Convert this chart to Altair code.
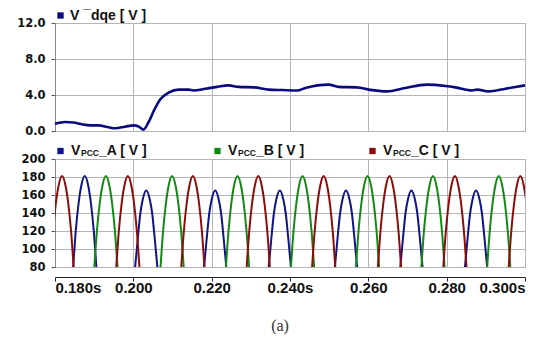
import altair as alt
import pandas as pd

# ---- top panel: V-dqe [V] ----
T_VDQE = [0.1800, 0.1826, 0.1847, 0.1869, 0.1890, 0.1911, 0.1937, 0.1954, 0.1979,
          0.2001, 0.2014, 0.2026, 0.2039, 0.2055, 0.2069, 0.2090, 0.2116, 0.2141,
          0.2154, 0.2184, 0.2214, 0.2243, 0.2269, 0.2308, 0.2346, 0.2380,
          0.2418, 0.2439, 0.2499, 0.2524, 0.2571, 0.2601, 0.2648, 0.2694, 0.2750,
          0.2797, 0.2822, 0.2865, 0.2878, 0.2907, 0.2950, 0.3000]
V_VDQE = [0.81, 1.00, 0.95, 0.74, 0.63, 0.63, 0.41, 0.30, 0.48,
          0.63, 0.48, 0.15, 1.00, 2.48, 3.52, 4.26, 4.60, 4.60,
          4.50, 4.70, 4.90, 5.07, 4.90, 4.85, 4.60, 4.55,
          4.50, 4.78, 5.15, 4.90, 4.85, 4.60, 4.40, 4.78, 5.15,
          5.00, 4.85, 4.50, 4.60, 4.40, 4.70, 5.07]

# ---- bottom panel: V_PCC arches (peak time, peak value) ----
PEAK_T_A = [0.1876, 0.2033, 0.2209, 0.2374, 0.2543, 0.2710, 0.2875]
PEAK_V_A = [181, 165, 165, 165, 165, 165, 165]
PEAK_T_B = [0.1930, 0.2099, 0.2266, 0.2432, 0.2598, 0.2765, 0.2933]
PEAK_V_B = [181, 181, 181, 181, 181, 181, 181]
PEAK_T_C = [0.1818, 0.1986, 0.2152, 0.2319, 0.2486, 0.2654, 0.2821, 0.2988]
PEAK_V_C = [181, 181, 181, 181, 181, 181, 181, 181]

# arch outline (time offset from peak, value)
SHAPE_HI_DT = [-0.0030, -0.0023, -0.0016, -0.0009, 0.0, 0.0009, 0.0016, 0.0023, 0.0030]
SHAPE_HI_V = [77, 120, 150, 170, None, 170, 150, 120, 77]
SHAPE_LO_DT = [-0.0029, -0.0022, -0.0015, -0.0009, 0.0, 0.0009, 0.0015, 0.0022, 0.0029]
SHAPE_LO_V = [77, 110, 140, 155, None, 155, 140, 110, 77]

COLORS = {"A": "#101488", "B": "#128a12", "C": "#8c0c0c"}
LINE_TOP = "#0a0a80"
GRID = "#b4b4b4"
FONT_AX = "DejaVu Sans"
FONT_LG = "Liberation Sans"

rows = []
for ph, ts, vs in (("A", PEAK_T_A, PEAK_V_A), ("B", PEAK_T_B, PEAK_V_B), ("C", PEAK_T_C, PEAK_V_C)):
    for i, (tp, vp) in enumerate(zip(ts, vs)):
        dts, vals = (SHAPE_HI_DT, SHAPE_HI_V) if vp > 172 else (SHAPE_LO_DT, SHAPE_LO_V)
        for k, (dt, v) in enumerate(zip(dts, vals)):
            rows.append({"t": tp + dt, "v": vp if v is None else v,
                         "phase": ph, "arch": f"{ph}{i}", "k": k})
wave = pd.DataFrame(rows)
top = pd.DataFrame({"t": T_VDQE, "v": V_VDQE})

W, H = 470, 108
xscale = alt.Scale(domain=[0.18, 0.30], nice=False, zero=False)
xvals = [0.18, 0.20, 0.22, 0.24, 0.26, 0.28, 0.30]

y_axis_common = dict(grid=True, gridColor=GRID, gridWidth=1, domainColor="#888888",
                     tickColor="#555555", tickSize=4, labelPadding=6,
                     labelFont=FONT_AX, labelFontWeight="bold", labelFontSize=11.5,
                     labelColor="#111111", title=None)

x_top = alt.X("t:Q", scale=xscale,
              axis=alt.Axis(values=xvals, labels=False, ticks=False, domain=False,
                            grid=True, gridColor=GRID, title=None))

line_top = alt.Chart(top).mark_line(color=LINE_TOP, strokeWidth=2.6, interpolate="monotone").encode(
    x=x_top,
    y=alt.Y("v:Q", scale=alt.Scale(domain=[0, 12], nice=False),
            axis=alt.Axis(values=[0, 4, 8, 12], format=".1f", **y_axis_common)),
)
one_top = top.head(1)
sq_top = alt.Chart(one_top).mark_square(color=LINE_TOP, size=40, opacity=1).encode(
    x=alt.value(5.5), y=alt.value(-7.5))
txt_top = alt.Chart(one_top).mark_text(text="V ¯dqe [ V ]", align="left", baseline="middle",
                                        font=FONT_LG, fontWeight="bold", fontSize=14,
                                        color="#111111").encode(
    x=alt.value(15), y=alt.value(-7.5))
top_chart = alt.layer(line_top, sq_top, txt_top).properties(width=W, height=H)

label_expr = ("(abs(datum.value-0.18)<1e-6 || abs(datum.value-0.24)<1e-6 || abs(datum.value-0.3)<1e-6)"
              " ? format(datum.value, '.3f') + 's' : format(datum.value, '.3f')")
x_bot = alt.X("t:Q", scale=xscale,
              axis=alt.Axis(values=xvals, labelExpr=label_expr, grid=True, gridColor=GRID,
                            offset=10, domainColor="#222222", tickColor="#222222", tickSize=4,
                            labelFont=FONT_LG, labelFontWeight="bold", labelFontSize=15,
                            labelColor="#111111", labelBaseline="middle", labelPadding=6,
                            title=None))

waves = alt.Chart(wave).mark_line(strokeWidth=2, interpolate="monotone", clip=True).encode(
    x=x_bot,
    y=alt.Y("v:Q", scale=alt.Scale(domain=[80, 200], nice=False),
            axis=alt.Axis(values=[80, 100, 120, 140, 160, 180, 200], **y_axis_common)),
    color=alt.Color("phase:N", scale=alt.Scale(domain=list(COLORS), range=list(COLORS.values())),
                    legend=None),
    detail="arch:N",
    order="k:Q",
)

leg_layers = []
one = wave.head(1)
for ph, x0 in (("A", 0), ("B", 157), ("C", 312)):
    c = COLORS[ph]
    leg_layers.append(alt.Chart(one).mark_square(color=c, size=40, opacity=1).encode(
        x=alt.value(5.5 + x0), y=alt.value(-8)))
    leg_layers.append(alt.Chart(one).mark_text(text="V", align="left", baseline="middle",
                                               font=FONT_LG, fontWeight="bold", fontSize=14,
                                               color="#111111").encode(
        x=alt.value(16 + x0), y=alt.value(-8)))
    leg_layers.append(alt.Chart(one).mark_text(text="PCC", align="left", baseline="middle",
                                               font=FONT_LG, fontWeight="bold", fontSize=8.5,
                                               color="#111111").encode(
        x=alt.value(26 + x0), y=alt.value(-6)))
    leg_layers.append(alt.Chart(one).mark_text(text=f"_{ph} [ V ]", align="left", baseline="middle",
                                               font=FONT_LG, fontWeight="bold", fontSize=14,
                                               color="#111111").encode(
        x=alt.value(44 + x0), y=alt.value(-8)))
cap = alt.Chart(one).mark_text(text="(a)", align="center", baseline="middle",
                               font="Liberation Serif", fontSize=16, color="#333333").encode(
    x=alt.value(225), y=alt.value(167))

bot_chart = alt.layer(waves, *leg_layers, cap).properties(width=W, height=H)

chart = alt.vconcat(top_chart, bot_chart, spacing=28, bounds="flush").properties(
    padding={"left": 8, "top": 0, "right": 5, "bottom": 0}
).configure_view(stroke="#a8a8a8", strokeWidth=1)

chart.save("out.html", embed_options={"renderer": "svg", "actions": False})
